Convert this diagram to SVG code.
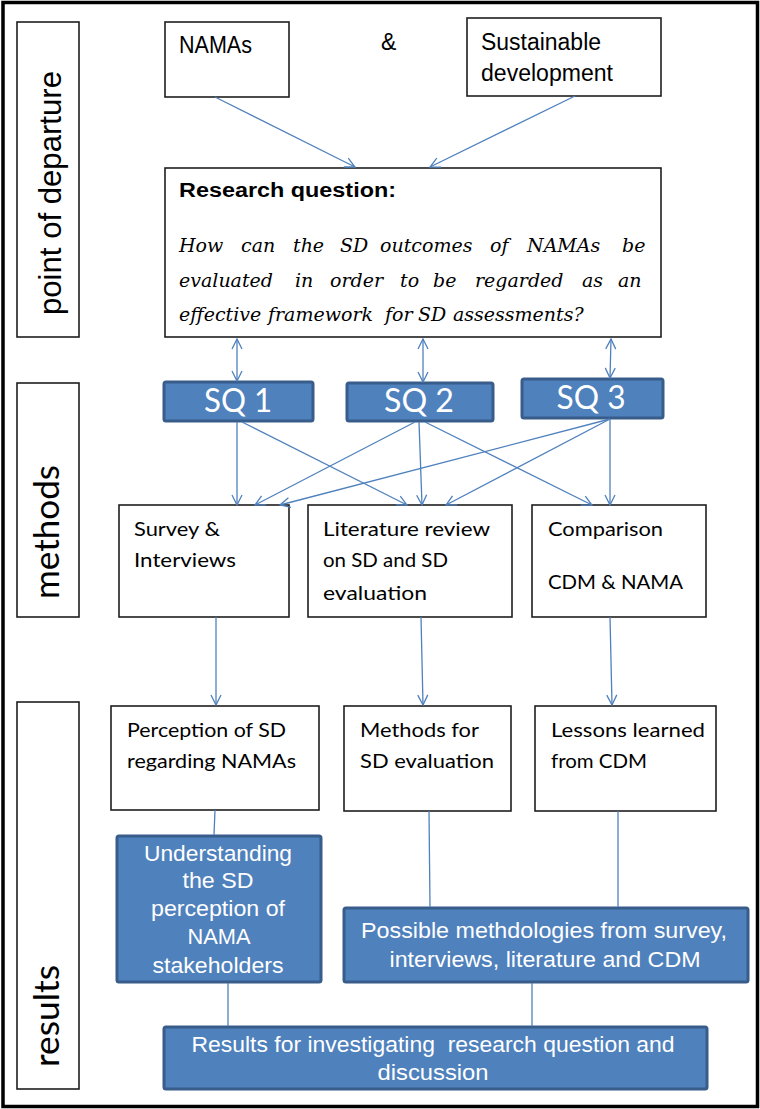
<svg xmlns="http://www.w3.org/2000/svg" width="760" height="1109" viewBox="0 0 760 1109">
<style>
.frame{fill:#fff;stroke:#000;stroke-width:3.5}
.box{fill:#fff;stroke:#1e1e1e;stroke-width:1.6}
.blue{fill:#4f81bd;stroke:#385d8a;stroke-width:3}
.ar{fill:none;stroke:#4f81bd;stroke-width:1.3}
.sans{font-family:"Liberation Sans",Arial,sans-serif;fill:#000}
.cal{font-family:Lato,"Open Sans",sans-serif;fill:#000;font-size:19px}
.lab{font-family:Lato,"Open Sans",sans-serif;fill:#000;font-size:35px}
.sq{font-family:Lato,"Open Sans",sans-serif;fill:#fff;font-size:32px;text-anchor:middle}
.wt{font-family:"Liberation Sans",Arial,sans-serif;fill:#fff;font-size:22px;text-anchor:middle}
.it{font-family:"DejaVu Serif",serif;font-style:italic;font-size:19px;fill:#000}
</style>
<defs>
<marker id="ah" viewBox="0 0 12 12" refX="11" refY="6" markerWidth="12" markerHeight="12" markerUnits="userSpaceOnUse" orient="auto-start-reverse">
<path d="M1,1 L11,6 L1,11" fill="none" stroke="#4f81bd" stroke-width="1.3"/>
</marker>
</defs>
<rect class="frame" x="3" y="2.5" width="754.5" height="1104"/>

<g id="label-departure">
<rect class="box" x="17" y="22" width="62" height="315"/>
<text class="sans" font-size="31" transform="translate(61,315) rotate(-90)" textLength="244" lengthAdjust="spacingAndGlyphs">point of departure</text>
</g>
<g id="label-methods">
<rect class="box" x="17" y="383" width="62" height="234"/>
<text class="lab" transform="translate(59,599) rotate(-90)" textLength="134" lengthAdjust="spacingAndGlyphs">methods</text>
</g>
<g id="label-results">
<rect class="box" x="17" y="702" width="62" height="387"/>
<text class="lab" transform="translate(59,1067) rotate(-90)" textLength="102" lengthAdjust="spacingAndGlyphs">results</text>
</g>

<g id="namas">
<rect class="box" x="165" y="22" width="124" height="75"/>
<text class="sans" font-size="23" x="179" y="53" textLength="73" lengthAdjust="spacingAndGlyphs">NAMAs</text>
</g>
<g id="amp">
<text class="sans" font-size="23" x="381" y="50">&amp;</text>
</g>
<g id="sustainable">
<rect class="box" x="467" y="18" width="194" height="78"/>
<text class="sans" font-size="23" x="481" y="50" textLength="120" lengthAdjust="spacingAndGlyphs">Sustainable</text>
<text class="sans" font-size="23" x="481" y="81" textLength="132" lengthAdjust="spacingAndGlyphs">development</text>
</g>

<g id="research-question">
<rect class="box" x="165" y="168" width="496" height="169"/>
<text class="sans" font-size="20" font-weight="bold" x="179" y="197" textLength="217" lengthAdjust="spacingAndGlyphs">Research question:</text>
<text class="it" y="252"><tspan x="179">How</tspan><tspan x="241">can</tspan><tspan x="293">the</tspan><tspan x="340">SD</tspan><tspan x="380">outcomes</tspan><tspan x="490">of</tspan><tspan x="527">NAMAs</tspan><tspan x="622">be</tspan></text>
<text class="it" y="287"><tspan x="179">evaluated</tspan><tspan x="295">in</tspan><tspan x="330">order</tspan><tspan x="400">to</tspan><tspan x="433">be</tspan><tspan x="475">regarded</tspan><tspan x="582">as</tspan><tspan x="618">an</tspan></text>
<text class="it" y="321"><tspan x="179">effective</tspan><tspan x="268">framework</tspan><tspan x="385">for</tspan><tspan x="418">SD</tspan><tspan x="453">assessments?</tspan></text>
</g>

<g id="sq1">
<rect class="blue" x="164" y="382" width="149" height="39" rx="2"/>
<text class="sq" x="238" y="412" textLength="68" lengthAdjust="spacingAndGlyphs">SQ 1</text>
</g>
<g id="sq2">
<rect class="blue" x="347" y="383" width="146" height="38" rx="2"/>
<text class="sq" x="419" y="412" textLength="70" lengthAdjust="spacingAndGlyphs">SQ 2</text>
</g>
<g id="sq3">
<rect class="blue" x="522" y="379" width="141" height="39" rx="2"/>
<text class="sq" x="591" y="409" textLength="69" lengthAdjust="spacingAndGlyphs">SQ 3</text>
</g>

<g id="survey">
<rect class="box" x="119" y="505" width="170" height="112"/>
<text class="cal" x="134" y="536" textLength="86" lengthAdjust="spacingAndGlyphs">Survey &amp;</text>
<text class="cal" x="134" y="567" textLength="102" lengthAdjust="spacingAndGlyphs">Interviews</text>
</g>
<g id="literature">
<rect class="box" x="308" y="505" width="204" height="112"/>
<text class="cal" x="323" y="536" textLength="167" lengthAdjust="spacingAndGlyphs">Literature review</text>
<text class="cal" x="323" y="567" textLength="125" lengthAdjust="spacingAndGlyphs">on SD and SD</text>
<text class="cal" x="323" y="600" textLength="104" lengthAdjust="spacingAndGlyphs">evaluation</text>
</g>
<g id="comparison">
<rect class="box" x="532" y="505" width="174" height="112"/>
<text class="cal" x="548" y="536" textLength="115" lengthAdjust="spacingAndGlyphs">Comparison</text>
<text class="cal" x="548" y="589" textLength="135" lengthAdjust="spacingAndGlyphs">CDM &amp; NAMA</text>
</g>

<g id="perception">
<rect class="box" x="111" y="706" width="208" height="104"/>
<text class="cal" x="127" y="737" textLength="159" lengthAdjust="spacingAndGlyphs">Perception of SD</text>
<text class="cal" x="127" y="768" textLength="169" lengthAdjust="spacingAndGlyphs">regarding NAMAs</text>
</g>
<g id="methods-for">
<rect class="box" x="344" y="706" width="167" height="105"/>
<text class="cal" x="360" y="737" textLength="119" lengthAdjust="spacingAndGlyphs">Methods for</text>
<text class="cal" x="360" y="768" textLength="134" lengthAdjust="spacingAndGlyphs">SD evaluation</text>
</g>
<g id="lessons">
<rect class="box" x="535" y="706" width="181" height="105"/>
<text class="cal" x="551" y="737" textLength="154" lengthAdjust="spacingAndGlyphs">Lessons learned</text>
<text class="cal" x="551" y="768" textLength="96" lengthAdjust="spacingAndGlyphs">from CDM</text>
</g>

<g id="understanding">
<rect class="blue" x="117" y="836" width="204" height="146" rx="2"/>
<text class="wt" x="218" y="861" textLength="148" lengthAdjust="spacingAndGlyphs">Understanding</text>
<text class="wt" x="218" y="888" textLength="71" lengthAdjust="spacingAndGlyphs">the SD</text>
<text class="wt" x="218" y="916" textLength="134" lengthAdjust="spacingAndGlyphs">perception of</text>
<text class="wt" x="219" y="944" textLength="63" lengthAdjust="spacingAndGlyphs">NAMA</text>
<text class="wt" x="218" y="973" textLength="131" lengthAdjust="spacingAndGlyphs">stakeholders</text>
</g>
<g id="possible">
<rect class="blue" x="344" y="908" width="404" height="74" rx="2"/>
<text class="wt" font-size="23" x="544" y="938" textLength="366" lengthAdjust="spacingAndGlyphs">Possible methdologies from survey,</text>
<text class="wt" font-size="23" x="545" y="967" textLength="311" lengthAdjust="spacingAndGlyphs">interviews, literature and CDM</text>
</g>
<g id="results-box">
<rect class="blue" x="164" y="1027" width="543" height="62" rx="2"/>
<text class="wt" font-size="23" x="433" y="1052" xml:space="preserve" textLength="483" lengthAdjust="spacingAndGlyphs">Results for investigating  research question and</text>
<text class="wt" font-size="23" x="433" y="1080" textLength="111" lengthAdjust="spacingAndGlyphs">discussion</text>
</g>

<g id="connectors">
<line class="ar" x1="215" y1="97" x2="355" y2="167" marker-end="url(#ah)"/>
<line class="ar" x1="575" y1="96" x2="430" y2="167" marker-end="url(#ah)"/>
<line class="ar" x1="237" y1="339" x2="237" y2="381" marker-start="url(#ah)" marker-end="url(#ah)"/>
<line class="ar" x1="423" y1="339" x2="423" y2="382" marker-start="url(#ah)" marker-end="url(#ah)"/>
<line class="ar" x1="611" y1="339" x2="610" y2="378" marker-start="url(#ah)" marker-end="url(#ah)"/>
<line class="ar" x1="237" y1="422" x2="237" y2="505" marker-end="url(#ah)"/>
<line class="ar" x1="242" y1="422" x2="407" y2="505" marker-end="url(#ah)"/>
<line class="ar" x1="415" y1="422" x2="255" y2="505" marker-end="url(#ah)"/>
<line class="ar" x1="419" y1="422" x2="422" y2="505" marker-end="url(#ah)"/>
<line class="ar" x1="425" y1="422" x2="592" y2="505" marker-end="url(#ah)"/>
<line class="ar" x1="610" y1="419" x2="280" y2="505" marker-end="url(#ah)"/>
<line class="ar" x1="610" y1="419" x2="446" y2="505" marker-end="url(#ah)"/>
<line class="ar" x1="610" y1="419" x2="610" y2="505" marker-end="url(#ah)"/>
<line class="ar" x1="216" y1="617" x2="216" y2="705" marker-end="url(#ah)"/>
<line class="ar" x1="421" y1="617" x2="423" y2="705" marker-end="url(#ah)"/>
<line class="ar" x1="610" y1="617" x2="612" y2="705" marker-end="url(#ah)"/>
<line class="ar" x1="215" y1="810" x2="214" y2="835"/>
<line class="ar" x1="429" y1="811" x2="430" y2="907"/>
<line class="ar" x1="618" y1="811" x2="618" y2="907"/>
<line class="ar" x1="228" y1="983" x2="228" y2="1026"/>
<line class="ar" x1="532" y1="983" x2="532" y2="1026"/>
</g>
</svg>
